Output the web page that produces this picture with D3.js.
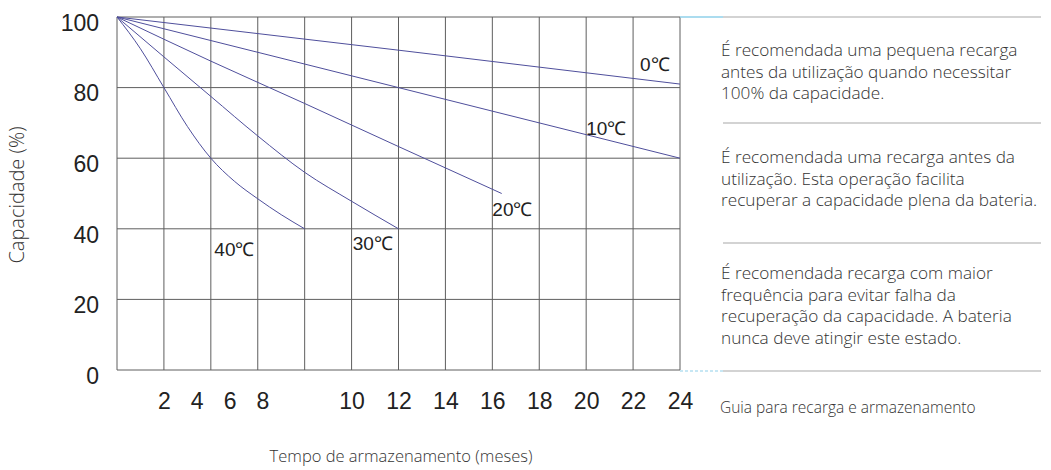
<!DOCTYPE html>
<html>
<head>
<meta charset="utf-8">
<script src="https://cdn.jsdelivr.net/npm/d3@7"></script>
<style>
  body { margin: 0; background: #fff; }
  svg { display: block; }
</style>
</head>
<body>
<script>
// data (months, capacity %)
var months0 = [0, 12, 24];
var cap0 = [100, 90.6, 81];
var months10 = [0, 12, 24];
var cap10 = [100, 80, 60];
var months20 = [0, 4, 8, 12, 16.4];
var cap20 = [100, 87.5, 75.5, 63.3, 50];
var months30 = [0, 2, 4, 6, 8, 10, 12];
var cap30 = [100, 88.7, 77.5, 66.3, 56, 47.8, 40];
var months40 = [0, 1, 2, 3, 4, 5, 6, 7, 8];
var cap40 = [100, 91, 80, 69, 60, 53.5, 48.5, 44, 40];
var seriesNames = ["0℃", "10℃", "20℃", "30℃", "40℃"];
// where each label sits, in data units (month, capacity)
var labelMonth = [22.3, 20.0, 16.0, 10.05, 4.15];
var labelCap = [84.6, 66.5, 43.5, 33.9, 32.3];

var yTicks = [0, 20, 40, 60, 80, 100];
var xTicksEarly = [2, 4, 6, 8];
var xTicksLate = [10, 12, 14, 16, 18, 20, 22, 24];
var gridMonths = [0, 2, 4, 6, 8, 10, 12, 14, 16, 18, 20, 22, 24];

var notes = [
  ["É recomendada uma pequena recarga", "antes da utilização quando necessitar", "100% da capacidade."],
  ["É recomendada uma recarga antes da", "utilização. Esta operação facilita", "recuperar a capacidade plena da bateria."],
  ["É recomendada recarga com maior", "frequência para evitar falha da", "recuperação da capacidade. A bateria", "nunca deve atingir este estado."]
];
var footNote = "Guia para recarga e armazenamento";

var width = 1051, height = 470;
var plotL = 117, plotR = 680, plotT = 17, plotB = 370;

var svg = d3.select("body").append("svg")
  .attr("width", width)
  .attr("height", height);

var x = d3.scaleLinear().domain([0, 24]).range([plotL, plotR]);
var y = d3.scaleLinear().domain([0, 100]).range([plotB, plotT]);
// the 2..8 labels are squeezed together in the original
var xSqueeze = d3.scaleLinear().domain([2, 8]).range([x(2), x(6.2)]);

// grid
svg.append("g").selectAll("line")
  .data(yTicks)
  .enter().append("line")
  .attr("x1", plotL).attr("x2", plotR)
  .attr("y1", d => y(d)).attr("y2", d => y(d))
  .attr("stroke", "#5e5e5e").attr("stroke-width", 1);

svg.append("g").selectAll("line")
  .data(gridMonths)
  .enter().append("line")
  .attr("x1", d => x(d)).attr("x2", d => x(d))
  .attr("y1", plotT).attr("y2", plotB)
  .attr("stroke", "#5e5e5e").attr("stroke-width", 1);

// curves
var line = d3.line()
  .x(d => x(d[0]))
  .y(d => y(d[1]))
  .curve(d3.curveMonotoneX);

var series = [
  d3.zip(months0, cap0),
  d3.zip(months10, cap10),
  d3.zip(months20, cap20),
  d3.zip(months30, cap30),
  d3.zip(months40, cap40)
];

svg.append("g").selectAll("path")
  .data(series)
  .enter().append("path")
  .attr("d", line)
  .attr("fill", "none")
  .attr("stroke", "#4f4f9c")
  .attr("stroke-width", 1);

svg.append("g").selectAll("text")
  .data(seriesNames)
  .enter().append("text")
  .attr("x", (d, i) => x(labelMonth[i]))
  .attr("y", (d, i) => y(labelCap[i]))
  .attr("font-family", "Liberation Sans, Arial, sans-serif")
  .attr("font-size", 19)
  .attr("fill", "#222")
  .text(d => d);

// axes
var yAxis = svg.append("g")
  .attr("transform", "translate(" + plotL + ",0)")
  .call(d3.axisLeft(y).tickValues(yTicks).tickSize(0).tickPadding(18));
yAxis.select(".domain").remove();
yAxis.selectAll("text")
  .attr("y", 6)
  .attr("font-family", "Liberation Sans, Arial, sans-serif")
  .attr("font-size", 23)
  .attr("fill", "#222");

var xAxisLate = svg.append("g")
  .attr("transform", "translate(0," + plotB + ")")
  .call(d3.axisBottom(x).tickValues(xTicksLate).tickSize(0).tickPadding(23));
var xAxisEarly = svg.append("g")
  .attr("transform", "translate(0," + plotB + ")")
  .call(d3.axisBottom(xSqueeze).tickValues(xTicksEarly).tickFormat(d3.format("d")).tickSize(0).tickPadding(23));
[xAxisLate, xAxisEarly].forEach(function(g) {
  g.select(".domain").remove();
  g.selectAll("text")
    .attr("font-family", "Liberation Sans, Arial, sans-serif")
    .attr("font-size", 23)
    .attr("fill", "#222");
});

// titles
svg.append("text")
  .attr("transform", "translate(24," + 195 + ") rotate(-90)")
  .attr("text-anchor", "middle")
  .attr("font-family", "Open Sans, sans-serif")
  .attr("font-weight", 300)
  .attr("font-size", 20)
  .attr("fill", "#333")
  .text("Capacidade (%)");

svg.append("text")
  .attr("x", 401)
  .attr("y", 462)
  .attr("text-anchor", "middle")
  .attr("font-family", "Open Sans, sans-serif")
  .attr("font-weight", 300)
  .attr("font-size", 16.5)
  .attr("fill", "#333")
  .text("Tempo de armazenamento (meses)");

// right-hand panel
var panelL = 723, panelR = 1041;
svg.append("line")
  .attr("x1", plotR).attr("x2", panelL).attr("y1", plotT).attr("y2", plotT)
  .attr("stroke", "#8fd0ea").attr("stroke-width", 1.5);
svg.append("line")
  .attr("x1", plotR).attr("x2", panelL).attr("y1", plotB + 1).attr("y2", plotB + 1)
  .attr("stroke", "#8fd0ea").attr("stroke-width", 1.2).attr("stroke-dasharray", "3,2");

var sepY = [plotT, 123, 243, plotB + 1];
svg.append("g").selectAll("line")
  .data(sepY)
  .enter().append("line")
  .attr("x1", panelL).attr("x2", panelR)
  .attr("y1", d => d).attr("y2", d => d)
  .attr("stroke", "#a8a8a8").attr("stroke-width", 1.2);

var noteTop = [56, 163, 279];
notes.forEach(function(block, b) {
  svg.append("g").selectAll("text")
    .data(block)
    .enter().append("text")
    .attr("x", 721)
    .attr("y", (d, i) => noteTop[b] + i * 21.5)
    .attr("font-family", "Open Sans, sans-serif")
    .attr("font-weight", 300)
    .attr("font-size", 17.2)
    .attr("fill", "#333")
    .text(d => d);
});

svg.append("text")
  .attr("x", 720)
  .attr("y", 413)
  .attr("font-family", "Open Sans, sans-serif")
  .attr("font-weight", 300)
  .attr("font-size", 15.5)
  .attr("fill", "#333")
  .text(footNote);
</script>
</body>
</html>
